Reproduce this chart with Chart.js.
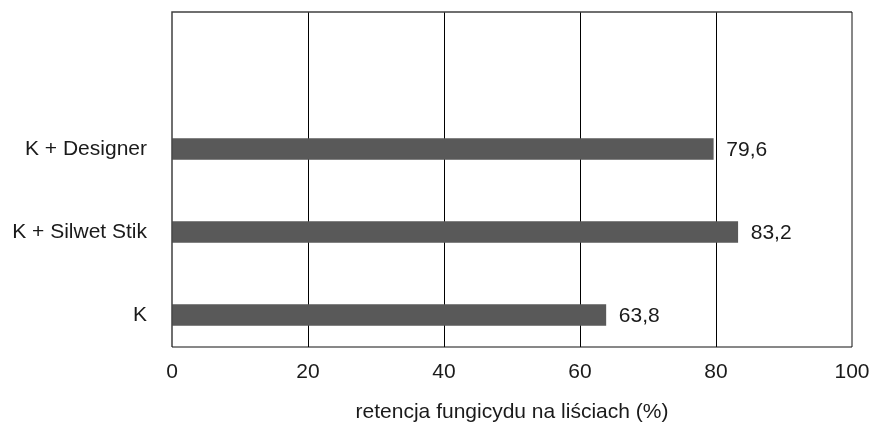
<!DOCTYPE html>
<html>
<head>
<meta charset="utf-8">
<script src="https://cdn.jsdelivr.net/npm/chart.js@4"></script>
<style>
  html, body { margin: 0; padding: 0; background: #fff; }
  #wrap { width: 871px; height: 422px; }
</style>
</head>
<body>
<div id="wrap"><canvas id="myChart"></canvas></div>
<script>
// categories from bottom to top
let categories = ['K', 'K + Silwet Stik', 'K + Designer'];
let retention = [63.8, 83.2, 79.6];
let value_labels = ['63,8', '83,2', '79,6'];
let x_ticks = [0, 20, 40, 60, 80, 100];
let x_title = 'retencja fungicydu na liściach (%)';

let font_family = '"Liberation Sans", Arial, sans-serif';
let text_color = '#1a1a1a';

// bar positions on a linear y axis: 1, 2, 3
let points = retention.map((v, i) => ({ x: v, y: i + 1 }));

let frame = {
    id: 'frame',
    afterDraw(chart) {
        let a = chart.chartArea;
        let ctx = chart.ctx;
        ctx.save();
        ctx.lineWidth = 1.5;
        ctx.strokeStyle = '#404040';
        ctx.beginPath();
        ctx.moveTo(a.left, a.bottom);
        ctx.lineTo(a.left, a.top);
        ctx.lineTo(a.right, a.top);
        ctx.stroke();
        ctx.lineWidth = 1;
        ctx.strokeStyle = '#111';
        ctx.beginPath();
        ctx.moveTo(a.right, a.top);
        ctx.lineTo(a.right, a.bottom);
        ctx.lineTo(a.left, a.bottom);
        ctx.stroke();
        ctx.restore();
    }
};

let barLabels = {
    id: 'barLabels',
    afterDatasetsDraw(chart) {
        let ctx = chart.ctx;
        let meta = chart.getDatasetMeta(0);
        ctx.save();
        ctx.font = '21px ' + font_family;
        ctx.fillStyle = text_color;
        ctx.textAlign = 'left';
        ctx.textBaseline = 'middle';
        meta.data.forEach((bar, i) => {
            ctx.fillText(value_labels[i], bar.x + 13, bar.y + 1);
        });
        ctx.restore();
    }
};

function noPad(scale) {
    scale.paddingTop = 0;
    scale.paddingBottom = 0;
    scale.paddingLeft = 0;
    scale.paddingRight = 0;
}

let config = {
    type: 'bar',
    data: {
        datasets: [{
            data: points,
            backgroundColor: '#595959',
            borderWidth: 0,
            barThickness: 21
        }]
    },
    plugins: [frame, barLabels],
    options: {
        indexAxis: 'y',
        responsive: true,
        maintainAspectRatio: false,
        animation: false,
        layout: { padding: { top: 12, right: 19, left: 0, bottom: 0 } },
        plugins: {
            legend: { display: false },
            tooltip: { enabled: false }
        },
        scales: {
            x: {
                type: 'linear',
                min: 0,
                max: 100,
                afterBuildTicks: (scale) => {
                    scale.ticks = x_ticks.map(v => ({ value: v }));
                },
                afterFit: (scale) => { scale.height = 75; noPad(scale); },
                border: { display: false },
                grid: {
                    drawTicks: false,
                    lineWidth: 1,
                    color: (c) => (c.tick && (c.tick.value === 0 || c.tick.value === 100)) ? 'rgba(0,0,0,0)' : '#000'
                },
                ticks: {
                    padding: 13,
                    color: text_color,
                    font: { family: font_family, size: 21 }
                },
                title: {
                    display: true,
                    text: x_title,
                    color: text_color,
                    padding: { top: 3, bottom: -3 },
                    font: { family: font_family, size: 21 }
                }
            },
            y: {
                type: 'linear',
                offset: false,
                min: 0.615,
                max: 4.65,
                afterBuildTicks: (scale) => {
                    scale.ticks = categories.map((c, i) => ({ value: i + 1 }));
                },
                afterFit: (scale) => { scale.width = 172; noPad(scale); },
                border: { display: false },
                grid: { display: false, drawTicks: false, offset: false },
                ticks: {
                    padding: 25,
                    color: text_color,
                    font: { family: font_family, size: 21 },
                    callback: (v) => categories[Math.round(v) - 1] || ''
                }
            }
        }
    }
};

let myChart = new Chart(document.getElementById('myChart'), config);
</script>
</body>
</html>
